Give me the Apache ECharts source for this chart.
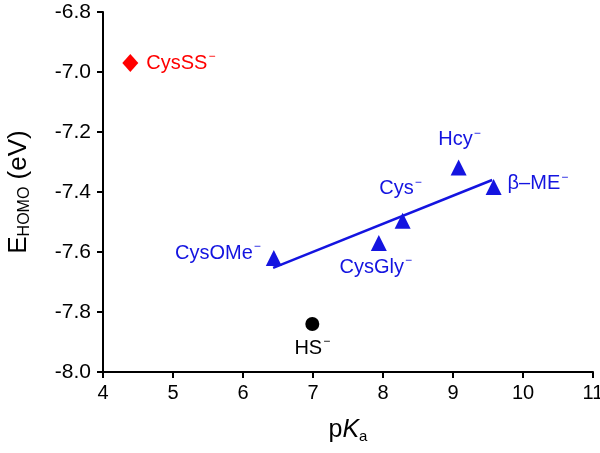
<!DOCTYPE html>
<html><head><meta charset="utf-8">
<script src="https://cdn.jsdelivr.net/npm/echarts@6/dist/echarts.min.js"></script>
<style>html,body{margin:0;padding:0;background:#fff}#c{width:600px;height:453px}</style>
</head><body><div id="c"></div>
<script>
// Data
const xTicks = [4, 5, 6, 7, 8, 9, 10, 11];
const yTicks = [-8.0, -7.8, -7.6, -7.4, -7.2, -7.0, -6.8];
const thiolNames = ['CysOMe', 'CysGly', 'Cys', 'Hcy', 'β–ME'];
const thiolPKa = [6.44, 7.94, 8.28, 9.08, 9.58];
const thiolE = [-7.62, -7.57, -7.496, -7.318, -7.383];
const disulfideNames = ['CysSS'];
const disulfidePKa = [4.39];
const disulfideE = [-6.97];
const sulfideNames = ['HS'];
const sulfidePKa = [6.99];
const sulfideE = [-7.84];
const fitX = [6.43, 9.56];
const fitY = [-7.653, -7.36];

const BLUE = '#1414e0', RED = '#ff0000', BLACK = '#000000', FONT = 'Liberation Sans, Arial, sans-serif';
const labelCfg = {
  'CysOMe': {position: 'left', distance: 5, offset: [0, -5]},
  'CysGly': {position: 'bottom', distance: 4, offset: [-3, 0]},
  'Cys': {position: 'top', distance: 12, offset: [-2, 0]},
  'Hcy': {position: 'top', distance: 8, offset: [1, 0]},
  'β–ME': {position: 'right', distance: 6, offset: [0, -3]},
  'CysSS': {position: 'right', distance: 8, offset: [0, 0]},
  'HS': {position: 'bottom', distance: 5, offset: [0, 0]}
};
function rich(color) {
  return {
    t: {fontSize: 20, fontFamily: FONT, color: color},
    s: {fontSize: 12, fontFamily: FONT, color: color, padding: [0, 0, 12, 1]}
  };
}
function pts(names, xs, ys, color) {
  return names.map((n, i) => ({
    value: [xs[i], ys[i]],
    label: Object.assign({show: true, formatter: '{t|' + n + '}{s|−}', rich: rich(color)}, labelCfg[n])
  }));
}

const chart = echarts.init(document.getElementById('c'));
chart.setOption({
  animation: false,
  grid: {left: 103, top: 12, right: 7, bottom: 81, containLabel: false, outerBoundsMode: 'none'},
  xAxis: {
    type: 'value', min: xTicks[0], max: xTicks[xTicks.length - 1], interval: 1,
    axisLine: {show: true, onZero: false, lineStyle: {color: BLACK, width: 2}},
    axisTick: {show: true, length: 6, lineStyle: {color: BLACK, width: 2}},
    axisLabel: {fontSize: 20, fontFamily: FONT, color: BLACK, margin: 11},
    splitLine: {show: false},
    name: '{p|p}{k|K}{a|a}', nameLocation: 'middle', nameGap: 45,
    nameTextStyle: {rich: {
      p: {fontSize: 25, fontFamily: FONT, color: BLACK},
      k: {fontSize: 25, fontFamily: FONT, fontStyle: 'italic', color: BLACK},
      a: {fontSize: 15, fontFamily: FONT, color: BLACK, padding: [12, 0, 0, 0]}
    }}
  },
  yAxis: {
    type: 'value', min: yTicks[0], max: yTicks[yTicks.length - 1], interval: 0.2,
    axisLine: {show: true, onZero: false, lineStyle: {color: BLACK, width: 2}},
    axisTick: {show: true, length: 6, lineStyle: {color: BLACK, width: 2}},
    axisLabel: {fontSize: 21, fontFamily: FONT, color: BLACK, margin: 12, formatter: v => v.toFixed(1)},
    splitLine: {show: false},
    name: '{e|E}{h|HOMO}{e| (eV)}', nameLocation: 'middle', nameGap: 70,
    nameTextStyle: {rich: {
      e: {fontSize: 26, fontFamily: FONT, color: BLACK},
      h: {fontSize: 16, fontFamily: FONT, color: BLACK, padding: [12, 0, 0, 0]}
    }}
  },
  series: [
    {type: 'line', data: fitX.map((x, i) => [x, fitY[i]]), symbol: 'none',
     lineStyle: {color: BLUE, width: 2.5}, z: 1},
    {type: 'scatter', data: pts(thiolNames, thiolPKa, thiolE, BLUE), symbol: 'triangle', symbolSize: 16,
     itemStyle: {color: BLUE, opacity: 1}, z: 2},
    {type: 'scatter', data: pts(disulfideNames, disulfidePKa, disulfideE, RED), symbol: 'diamond', symbolSize: [16, 18],
     itemStyle: {color: RED, opacity: 1}, z: 2},
    {type: 'scatter', data: pts(sulfideNames, sulfidePKa, sulfideE, BLACK), symbol: 'circle', symbolSize: 14,
     itemStyle: {color: BLACK, opacity: 1}, z: 2}
  ]
});
</script></body></html>
